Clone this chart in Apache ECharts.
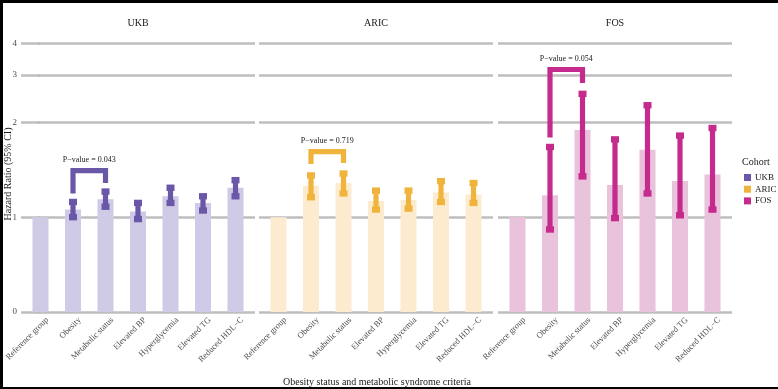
<!DOCTYPE html>
<html>
<head>
<meta charset="utf-8">
<script src="https://cdn.jsdelivr.net/npm/echarts@6/dist/echarts.min.js"></script>
<style>
  html, body { margin: 0; padding: 0; background: #fff; }
  #chart { width: 778px; height: 389px; }
</style>
</head>
<body>
<div id="chart"></div>
<script>
const categories = ['Reference group', 'Obesity', 'Metabolic status', 'Elevated BP', 'Hyperglycemia', 'Elevated TG', 'Reduced HDL\u2212C'];
const cohorts = ['UKB', 'ARIC', 'FOS'];

// hazard ratio + 95% CI per cohort (reference group has no CI)
const ukbHr = [1.00, 1.08, 1.19, 1.06, 1.22, 1.15, 1.31];
const ukbLo = [null, 1.00, 1.11, 0.98, 1.15, 1.07, 1.22];
const ukbHi = [null, 1.16, 1.27, 1.15, 1.31, 1.22, 1.39];

const aricHr = [1.00, 1.33, 1.36, 1.17, 1.18, 1.26, 1.24];
const aricLo = [null, 1.21, 1.25, 1.08, 1.09, 1.16, 1.15];
const aricHi = [null, 1.44, 1.46, 1.28, 1.28, 1.38, 1.36];

const fosHr = [1.00, 1.23, 1.92, 1.34, 1.71, 1.38, 1.45];
const fosLo = [null, 0.87, 1.43, 0.99, 1.25, 1.02, 1.08];
const fosHi = [null, 1.74, 2.60, 1.82, 2.36, 1.86, 1.94];

// bracket between Obesity and Metabolic status: left leg end, top, right leg end
const ukbBracket = [1.25, 1.49, 1.36];
const aricBracket = [1.56, 1.69, 1.57];
const fosBracket = [1.84, 3.17, 2.83];
const pValues = ['0.043', '0.719', '0.054'];

// y tick labels and where they sit on the (non linear) scale
const tickVals = [0, 1, 2, 3, 4];
const tickPos = [0, 1, 2, 2.5, 2.8333];

const darkColors = ['#6b57a8', '#f0b43c', '#c52b8c'];
const lightColors = ['#cfcae5', '#fcebcf', '#e9c2dc'];
const FONT = '"Liberation Serif", "DejaVu Serif", serif';

const toPos = function (v) {
    if (v == null) return null;
    for (let i = 1; i < tickVals.length; i++) {
        if (v <= tickVals[i] || i === tickVals.length - 1) {
            const t = (v - tickVals[i - 1]) / (tickVals[i] - tickVals[i - 1]);
            return tickPos[i - 1] + t * (tickPos[i] - tickPos[i - 1]);
        }
    }
    return null;
};

const hrs = [ukbHr, aricHr, fosHr];
const los = [ukbLo, aricLo, fosLo];
const his = [ukbHi, aricHi, fosHi];
const brackets = [ukbBracket, aricBracket, fosBracket];

const panelLeft = [21, 259, 498];
const panelWidth = 234;
const gridTop = 36;
const gridHeight = 276;
const posMax = 2.91;

const grids = [];
const xAxes = [];
const yAxes = [];
const series = [];
const graphics = [];

cohorts.forEach((name, i) => {
    grids.push({
        left: panelLeft[i], top: gridTop, width: panelWidth, height: gridHeight,
        outerBoundsMode: 'none'
    });

    xAxes.push({
        type: 'value', gridIndex: i, min: -0.6, max: 6.6,
        axisLine: { show: false },
        axisTick: { show: false },
        splitLine: { show: false },
        axisLabel: {
            customValues: [0, 1, 2, 3, 4, 5, 6],
            formatter: (v) => categories[Math.round(v)],
            rotate: 45,
            margin: 0,
            align: 'right',
            verticalAlign: 'top',
            padding: [5, 0, 0, 0],
            fontSize: 8.5,
            fontFamily: FONT,
            color: '#4d4d4d'
        }
    });

    yAxes.push({
        type: 'value', gridIndex: i, min: 0, max: posMax,
        axisLine: { show: false },
        axisTick: {
            show: i === 0, length: 3, customValues: tickPos,
            lineStyle: { color: '#bebebe', width: 2.7 }
        },
        axisLabel: {
            show: i === 0,
            customValues: tickPos,
            formatter: (v) => {
                const k = tickPos.findIndex(p => Math.abs(p - v) < 1e-3);
                return k >= 0 ? String(tickVals[k]) : '';
            },
            margin: 4,
            fontSize: 9,
            fontFamily: FONT,
            color: '#4d4d4d'
        },
        splitLine: { show: true, lineStyle: { color: '#bebebe', width: 2.7 } }
    });

    // bars = point estimate
    series.push({
        name: name,
        type: 'bar',
        xAxisIndex: i, yAxisIndex: i,
        barWidth: 16,
        itemStyle: { color: lightColors[i] },
        data: hrs[i].map((v, k) => [k, toPos(v)]),
        z: 2
    });

    // error bars
    const ciData = [];
    hrs[i].forEach((v, k) => {
        if (los[i][k] != null) {
            ciData.push([k, toPos(los[i][k]), toPos(his[i][k])]);
        }
    });
    series.push({
        name: name,
        type: 'custom',
        xAxisIndex: i, yAxisIndex: i,
        itemStyle: { color: darkColors[i] },
        encode: { x: 0, y: [1, 2] },
        data: ciData,
        z: 3,
        renderItem: (params, api) => {
            const x = api.value(0);
            const lo = api.coord([x, api.value(1)]);
            const hi = api.coord([x, api.value(2)]);
            const col = darkColors[i];
            return {
                type: 'group',
                children: [
                    { type: 'rect', shape: { x: hi[0] - 2.6, y: hi[1], width: 5.2, height: lo[1] - hi[1] }, style: { fill: col } },
                    { type: 'rect', shape: { x: hi[0] - 4, y: hi[1] - 3.2, width: 8, height: 6.4 }, style: { fill: col } },
                    { type: 'rect', shape: { x: lo[0] - 4, y: lo[1] - 3.2, width: 8, height: 6.4 }, style: { fill: col } }
                ]
            };
        }
    });

    // p-value bracket Obesity vs Metabolic status
    const b = brackets[i];
    series.push({
        type: 'custom',
        xAxisIndex: i, yAxisIndex: i,
        data: [[1, 2, toPos(b[0]), toPos(b[1]), toPos(b[2])]],
        z: 4,
        silent: true,
        renderItem: (params, api) => {
            const pL = api.coord([api.value(0), api.value(2)]);
            const pTL = api.coord([api.value(0), api.value(3)]);
            const pTR = api.coord([api.value(1), api.value(3)]);
            const pR = api.coord([api.value(1), api.value(4)]);
            return {
                type: 'group',
                children: [
                    {
                        type: 'polyline',
                        shape: { points: [pL, pTL, pTR, pR] },
                        style: { stroke: darkColors[i], lineWidth: 5.2, fill: 'none', lineJoin: 'miter', lineCap: 'butt' }
                    },
                    {
                        type: 'text',
                        style: {
                            text: 'P\u2212value = ' + pValues[i],
                            x: (pTL[0] + pTR[0]) / 2, y: pTL[1] - 11,
                            align: 'center', verticalAlign: 'middle',
                            font: '8px ' + FONT, fill: '#1a1a1a'
                        }
                    }
                ]
            };
        }
    });

    // facet strip title
    graphics.push({
        type: 'text',
        style: {
            text: name, x: panelLeft[i] + panelWidth / 2, y: 23,
            align: 'center', verticalAlign: 'middle',
            font: '10px ' + FONT, fill: '#1a1a1a'
        }
    });
});

graphics.push(
    {
        type: 'text',
        style: {
            text: 'Obesity status and metabolic syndrome criteria', x: 377, y: 382,
            align: 'center', verticalAlign: 'middle',
            font: '10px ' + FONT, fill: '#1a1a1a'
        }
    },
    {
        type: 'text',
        x: 8, y: 174,
        rotation: Math.PI / 2,
        style: {
            text: 'Hazard Ratio (95% CI)', x: 0, y: 0,
            align: 'center', verticalAlign: 'middle',
            font: '10px ' + FONT, fill: '#1a1a1a'
        }
    },
    {
        type: 'text',
        style: {
            text: 'Cohort', x: 742, y: 162,
            align: 'left', verticalAlign: 'middle',
            font: '10px ' + FONT, fill: '#1a1a1a'
        }
    },
    // black frame around the figure
    { type: 'rect', shape: { x: 0, y: 0, width: 778, height: 3 }, style: { fill: '#000' } },
    { type: 'rect', shape: { x: 0, y: 0, width: 3, height: 389 }, style: { fill: '#000' } },
    { type: 'rect', shape: { x: 0, y: 387, width: 778, height: 2 }, style: { fill: '#000' } }
);

const chart = echarts.init(document.getElementById('chart'), null, { renderer: 'canvas' });
chart.setOption({
    animation: false,
    backgroundColor: '#fff',
    grid: grids,
    xAxis: xAxes,
    yAxis: yAxes,
    legend: {
        orient: 'vertical',
        left: 739, top: 168,
        itemWidth: 7, itemHeight: 7, itemGap: 2.7,
        icon: 'rect',
        textStyle: { fontSize: 9, fontFamily: FONT, color: '#1a1a1a', padding: [0, 0, 0, -1] },
        data: cohorts.map((c, i) => ({ name: c, itemStyle: { color: darkColors[i] } }))
    },
    graphic: graphics,
    series: series
});
</script>
</body>
</html>
